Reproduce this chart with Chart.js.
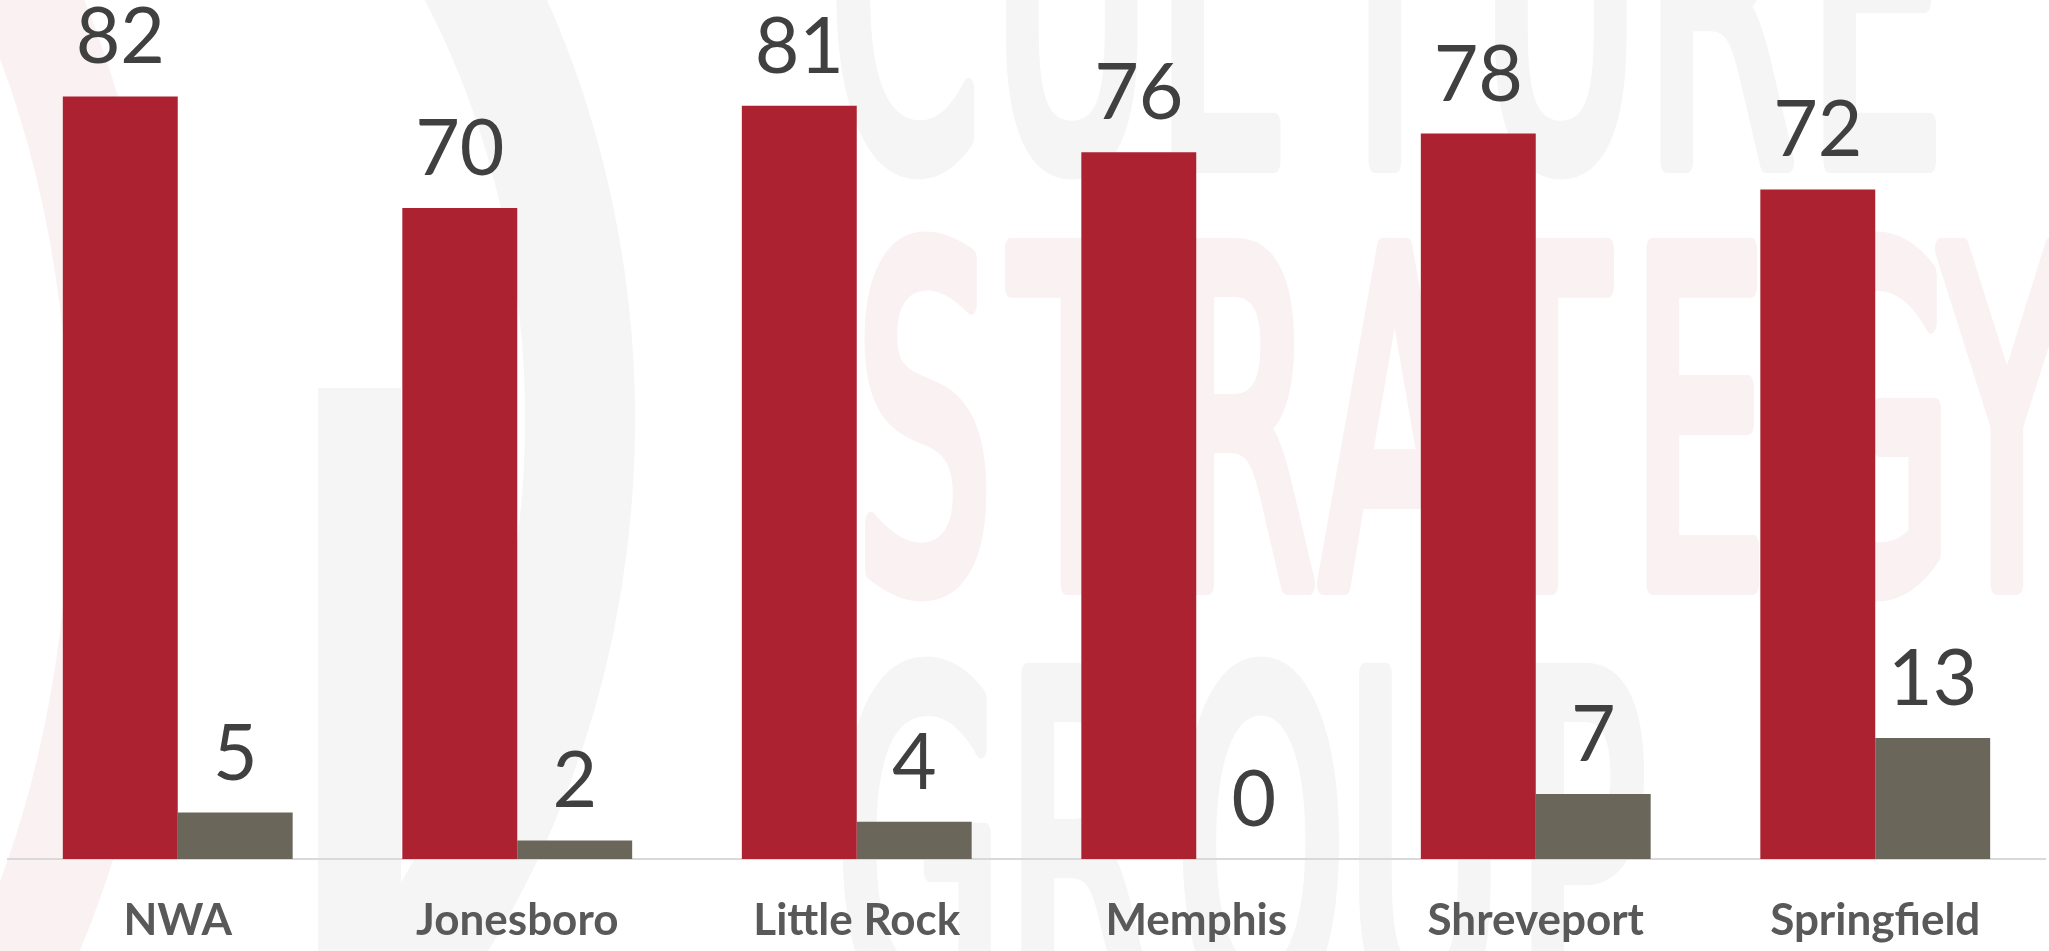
<!DOCTYPE html>
<html>
<head>
<meta charset="utf-8">
<title>Market comparison</title>
<script src="https://cdn.jsdelivr.net/npm/chart.js@4.4.1/dist/chart.umd.min.js"></script>
<style>
  html, body { margin: 0; padding: 0; background: #fff; }
  .wrap { width: 2049px; height: 951px; position: relative; }
</style>
</head>
<body>
<div class="wrap"><canvas id="myChart"></canvas></div>
<script>
// data
const markets = ['NWA', 'Jonesboro', 'Little Rock', 'Memphis', 'Shreveport', 'Springfield'];
const seriesA = [82, 70, 81, 76, 78, 72];
const seriesB = [5, 2, 4, 0, 7, 13];

const red = '#AD2231';
const gray = '#6A665A';

// faint logo behind the bars
const logoBg = {
  id: 'logoBg',
  beforeDraw(chart) {
    const c = chart.ctx;
    c.save();
    c.fillStyle = '#fff';
    c.fillRect(0, 0, chart.width, chart.height);

    // ring on the left
    c.lineWidth = 110;
    c.strokeStyle = '#F5F5F5';
    c.beginPath();
    c.ellipse(-120, 420, 700, 840, 0, -1.05, 0.95);
    c.stroke();
    c.strokeStyle = '#FAF1F2';
    c.lineWidth = 100;
    c.beginPath();
    c.ellipse(-300, 470, 420, 760, 0, -0.9, 1.0);
    c.stroke();
    c.fillStyle = '#F5F5F5';
    c.fillRect(318, 388, 83, 600);

    const rows = [
      { text: 'CULTURE', x: 830, pitch: 163, base: 162, color: '#F5F5F5' },
      { text: 'STRATEGY', x: 856, pitch: 155, base: 584, color: '#FAF1F2' },
      { text: 'GROUP', x: 836, pitch: 170, base: 1009, color: '#F5F5F5' }
    ];
    c.font = '460px "Liberation Sans Narrow", "DejaVu Sans Condensed", sans-serif';
    c.textBaseline = 'alphabetic';
    c.textAlign = 'left';
    rows.forEach(r => {
      c.fillStyle = r.color;
      c.strokeStyle = r.color;
      c.lineWidth = 22;
      c.lineJoin = 'round';
      [...r.text].forEach((ch, i) => {
        c.save();
        c.translate(r.x + i * r.pitch, r.base);
        c.scale(0.52, 1);
        c.fillText(ch, 0, 0);
        c.strokeText(ch, 0, 0);
        c.restore();
      });
    });
    c.restore();
  }
};

// value labels above each bar
const barValues = {
  id: 'barValues',
  afterDatasetsDraw(chart) {
    const c = chart.ctx;
    c.save();
    c.font = '77px Lato, "Open Sans", sans-serif';
    c.fillStyle = '#404040';
    c.textAlign = 'center';
    c.textBaseline = 'alphabetic';
    chart.data.datasets.forEach((ds, i) => {
      chart.getDatasetMeta(i).data.forEach((bar, j) => {
        c.fillText(ds.data[j], bar.x, bar.y - 33);
      });
    });
    c.restore();
  }
};

const ctx = document.getElementById('myChart').getContext('2d');
new Chart(ctx, {
  type: 'bar',
  data: {
    labels: markets,
    datasets: [
      { label: 'A', data: seriesA, backgroundColor: red },
      { label: 'B', data: seriesB, backgroundColor: gray }
    ]
  },
  options: {
    responsive: true,
    maintainAspectRatio: false,
    animation: false,
    categoryPercentage: 0.677,
    barPercentage: 1,
    layout: { padding: { top: 22, left: 8, right: 4, bottom: 0 } },
    plugins: {
      legend: { display: false },
      tooltip: { enabled: false }
    },
    scales: {
      x: {
        grid: { display: false, drawTicks: false },
        border: { display: true, color: '#D9D9D9', width: 2 },
        ticks: {
          color: '#595959',
          padding: 35,
          font: { family: 'Lato, "Open Sans", sans-serif', size: 44, weight: 'bold' }
        },
        afterFit(scale) {
          scale.height = 92;
        }
      },
      y: {
        display: false,
        min: 0,
        max: 90
      }
    }
  },
  plugins: [logoBg, barValues]
});
</script>
</body>
</html>
